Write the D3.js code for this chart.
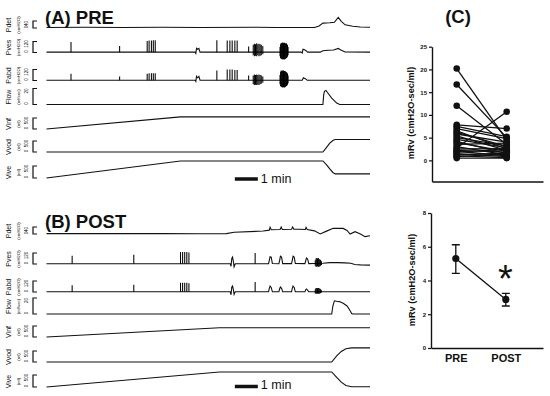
<!DOCTYPE html>
<html><head><meta charset="utf-8">
<script src="https://cdn.jsdelivr.net/npm/d3@7"></script>
<style>html,body{margin:0;padding:0;background:#fff;} svg{display:block;font-family:"Liberation Sans",Arial,sans-serif;}</style>
</head><body><svg id="c" width="550" height="396"></svg>
<script>
// ---------- DATA ----------
const traceNames = ["Pdet","Pves","Pabd","Flow","Vinf","Vvod","Vive"];
const traceUnits = ["(cmH2O)","(cmH2O)","(cmH2O)","(ml/sec)","(ml)","(ml)","(ml)"];
const traceMax   = [40,120,120,20,500,500,500];
const timeDomain = [0,845];           // seconds
const scaleBarSec = 60;               // "1 min"
const scaleBarStart = 492;

// PRE traces: [time s, value]
const pdetPre = [[0,3],[100,4],[200,3],[300,4],[400,3],[550,4],[600,3],[700,3],[712,12],[722,28],[740,30],[752,33],[762,60],[770,38],[780,18],[800,10],[820,6],[845,4]];
const pvesPre = [[0,4],[388,4],[390,-10],[392,45],[395,35],[398,45],[401,4],[665,4],[668,-5],[670,35],[674,30],[678,20],[682,4],[715,4],[722,20],[735,25],[750,28],[762,44],[770,25],[780,5],[845,4]];
const pvesPreSpikes = [[64,4,115],[191,4,70],[263,4,125],[268,4,130],[274,4,130],[279,4,135],[284,4,135],[445,4,135],[472,4,130],[479,4,130],[485,4,130],[492,4,130],[498,4,130],[528,4,65],[540,-30,85],[543,-40,95],[546,-35,90],[549,-40,100],[552,-30,90],[555,-40,95],[558,-35,90],[561,-30,85],[565,-20,70],[610,-40,60],[611.5,-60,90],[613,-70,105],[614.5,-65,100],[616,-75,110],[617.5,-70,105],[619,-75,100],[620.5,-70,110],[622,-75,105],[623.5,-70,100],[625,-65,95],[626.5,-60,100],[628,-55,90],[629.5,-45,80],[631,-30,60]];
const pabdPre = [[0,3],[388,3],[390,-10],[392,45],[395,30],[398,45],[401,3],[668,3],[671,30],[676,20],[681,3],[845,3]];
const pabdPreSpikes = [[64,3,75],[191,3,45],[263,3,75],[268,3,80],[274,3,80],[279,3,80],[284,3,80],[445,3,110],[472,3,120],[479,3,120],[485,3,120],[492,3,115],[498,3,115],[528,3,55],[540,-40,55],[543,-50,65],[546,-45,60],[549,-50,65],[552,-45,60],[555,-50,65],[558,-40,60],[561,-35,55],[565,-25,45],[610,-40,60],[611.5,-60,95],[613,-70,110],[614.5,-65,100],[616,-75,110],[617.5,-70,105],[619,-75,110],[620.5,-70,100],[622,-75,105],[623.5,-70,100],[625,-65,95],[626.5,-60,90],[628,-55,85],[629.5,-45,75],[631,-30,55]];
const flowPre = [[0,0],[722,0],[724,12],[726,16.5],[730,17.5],[734,15],[745,8],[758,1.8],[766,0],[845,0]];
const vinfPre = [[0,0],[350,550],[845,550]];
const vvodPre = [[0,0],[722,0],[731,200],[740,400],[748,520],[754,565],[845,565]];
const vivePre = [[0,0],[350,710],[722,710],[731,560],[740,380],[748,230],[754,170],[845,170]];

// POST traces
const pdetPost = [[0,2],[300,2],[400,1],[470,2],[490,10],[566,17],[582,22],[584,38],[587,24],[610,26],[613,40],[616,26],[640,27],[643,40],[646,27],[660,27],[676,26],[678,38],[681,26],[700,18],[715,0],[730,15],[749,33],[775,32],[785,20],[793,0],[806,13],[820,0],[832,-15],[845,-10]];
const pvesPost = [[0,2],[480,2],[482,-25],[484,60],[486,75],[488,30],[490,-30],[493,2],[580,3],[582,40],[584,80],[587,75],[590,5],[607,3],[609,40],[611,85],[614,75],[617,4],[640,4],[642,40],[644,85],[647,75],[650,5],[675,4],[677,35],[679,65],[682,55],[685,4],[700,5],[722,8],[740,15],[760,15],[780,12],[795,8],[805,-5],[820,-10],[845,-12]];
const pvesPostSpikes = [[67,2,90],[228,2,100],[350,2,130],[355.5,2,130],[361,2,130],[366.5,2,130],[372,2,125],[545,2,120],[702,-20,40],[704,-30,60],[706,-30,65],[708,-25,60],[710,-30,65],[712,-30,55],[714,-25,50],[716,-20,45],[718,-10,30]];
const pabdPost = [[0,2],[480,2],[482,-30],[484,55],[486,65],[488,30],[490,-25],[493,2],[580,2],[582,40],[584,65],[587,50],[590,2],[607,2],[609,35],[611,55],[614,40],[617,2],[640,2],[642,40],[644,65],[647,50],[650,2],[675,2],[677,25],[679,33],[682,20],[685,2],[845,2]];
const pabdPostSpikes = [[67,2,75],[228,2,80],[350,2,100],[355.5,2,100],[361,2,100],[366.5,2,100],[372,2,95],[545,2,110],[702,-15,30],[704,-20,45],[706,-20,45],[708,-15,40],[710,-20,45],[712,-20,40],[714,-15,35],[716,-10,30],[718,-5,20]];
const flowPost = [[0,0],[745,0],[748,10],[752,16.5],[758,16],[765,15.5],[775,13.5],[785,10],[792,5],[797,0.5],[800,0],[845,0]];
const vinfPost = [[0,0],[452,420],[845,420]];
const vvodPost = [[0,0],[745,0],[758,280],[770,480],[782,600],[797,640],[845,640]];
const vivePost = [[0,0],[452,625],[745,625],[758,400],[770,200],[782,60],[797,10],[845,10]];

// Panel C: individual mRv values
const groups = ["PRE","POST"];
const mrvPre  = [20.2,16.7,12.0,7.8,7.5,7.0,6.5,6.2,5.8,5.4,5.0,4.6,4.2,3.9,3.5,3.0,2.7,2.5,2.2,2.0,1.8,1.5,1.2,1.0,0.8,0.5];
const mrvPost = [4.5,5.0,3.5,7.0,5.2,4.8,2.5,3.0,4.0,2.2,3.2,2.8,1.5,2.0,3.8,1.2,10.7,2.6,1.8,1.0,2.4,0.8,1.6,0.6,1.4,0.5];
const cTicks = [0,5,10,15,20,25];
// Panel D: mean +/- SEM
const meanVals = [5.3,2.88];
const errLow   = [4.42,2.49];
const errHigh  = [6.12,3.24];
const dTicks = [0,2,4,6,8];

// ---------- DRAW ----------
const svg = d3.select("#c");
const ink = "#111";
const x = d3.scaleLinear().domain(timeDomain).range([46.5,370]);
const bh = [7,11,11,16,11,11,12];

const panels = [
  {title:"(A) PRE", ty:23.5, bases:[28,52.5,80.5,104.5,129,152,178],
   knots:[pdetPre,pvesPre,pabdPre,flowPre,vinfPre,vvodPre,vivePre],
   spikes:[[],pvesPreSpikes,pabdPreSpikes,[],[],[],[]], barY:179, barTY:183},
  {title:"(B) POST", ty:227.5, bases:[234,264,292,314,337,362,387],
   knots:[pdetPost,pvesPost,pabdPost,flowPost,vinfPost,vvodPost,vivePost],
   spikes:[[],pvesPostSpikes,pabdPostSpikes,[],[],[],[]], barY:386.5, barTY:389}
];

panels.forEach(p => {
  const g = svg.append("g");
  g.append("text").attr("x",45).attr("y",p.ty).attr("font-size",18.5).attr("font-weight","bold")
    .attr("fill",ink).text(p.title);
  traceNames.forEach((nm,i) => {
    const base = p.bases[i];
    const y = d3.scaleLinear().domain([0,traceMax[i]]).range([base, base-bh[i]]);
    const top = y(traceMax[i]);
    const cy = (base+top)/2 + 0.5;
    g.append("text").attr("transform",`translate(8.5,${cy}) rotate(-90)`).attr("text-anchor","middle")
      .attr("dominant-baseline","central").attr("font-size",7).attr("fill",ink).text(nm);
    g.append("text").attr("transform",`translate(18,${cy}) rotate(-90)`).attr("text-anchor","middle")
      .attr("dominant-baseline","central").attr("font-size",4.3).attr("fill",ink).text(traceUnits[i]);
    g.append("text").attr("transform",`translate(26,${base-1}) rotate(-90)`).attr("text-anchor","middle")
      .attr("dominant-baseline","central").attr("font-size",4.6).attr("fill",ink).text("0");
    g.append("text").attr("transform",`translate(26,${top+2.5}) rotate(-90)`).attr("text-anchor","middle")
      .attr("dominant-baseline","central").attr("font-size",4.6).attr("fill",ink).text(String(traceMax[i]));
    g.append("path").attr("d",`M37,${top}H33V${base}H37`).attr("fill","none").attr("stroke",ink).attr("stroke-width",1.2);
    const line = d3.line().x(d=>x(d[0])).y(d=>y(d[1]));
    g.append("path").attr("d",line(p.knots[i])).attr("fill","none").attr("stroke",ink).attr("stroke-width",1.1);
    g.selectAll(null).data(p.spikes[i]).join("line")
      .attr("x1",d=>x(d[0])).attr("x2",d=>x(d[0])).attr("y1",d=>y(d[1])).attr("y2",d=>y(d[2]))
      .attr("stroke","#000").attr("stroke-width",1.05);
  });
  g.append("line").attr("x1",x(scaleBarStart)).attr("x2",x(scaleBarStart+scaleBarSec))
    .attr("y1",p.barY).attr("y2",p.barY).attr("stroke",ink).attr("stroke-width",3.5);
  g.append("text").attr("x",x(scaleBarStart+scaleBarSec)+3).attr("y",p.barTY).attr("font-size",12.5)
    .attr("fill",ink).text("1 min");
});

// Panel C
const yC = d3.scaleLinear().domain([-4.65,25]).range([181.5,46.7]);
const xC = d3.scalePoint().domain(groups).range([432,543]).padding(0.61).align(0.405);
svg.append("text").attr("x",458).attr("y",23).attr("text-anchor","middle").attr("font-size",18.5)
  .attr("font-weight","bold").attr("fill",ink).text("(C)");
const gC = svg.append("g");
const axC = gC.append("g").attr("transform","translate(432,0)")
  .call(d3.axisLeft(yC).tickValues(cTicks).tickSize(3).tickPadding(2).tickSizeOuter(0));
const axCx = gC.append("g").attr("transform","translate(0,181.5)")
  .call(d3.axisBottom(xC).tickSize(0).tickFormat("").tickSizeOuter(0));
gC.selectAll(null).data(mrvPre).join("line")
  .attr("x1",xC("PRE")).attr("x2",xC("POST")).attr("y1",d=>yC(d)).attr("y2",(d,i)=>yC(mrvPost[i]))
  .attr("stroke",ink).attr("stroke-width",1.3);
gC.selectAll(null).data(mrvPre).join("circle").attr("cx",xC("PRE")).attr("cy",d=>yC(d)).attr("r",3.3).attr("fill",ink);
gC.selectAll(null).data(mrvPost).join("circle").attr("cx",xC("POST")).attr("cy",d=>yC(d)).attr("r",3.3).attr("fill",ink);
svg.append("text").attr("transform",`translate(411,113) rotate(-90)`).attr("text-anchor","middle")
  .attr("dominant-baseline","central").attr("font-size",9.2).attr("font-weight","bold").attr("fill",ink)
  .text("mRv (cmH2O-sec/ml)");

// Panel D
const yD = d3.scaleLinear().domain([0,8]).range([348,213]);
const xD = d3.scalePoint().domain(groups).range([431,543]).padding(0.62).align(0.4);
const gD = svg.append("g");
const axD = gD.append("g").attr("transform","translate(431,0)")
  .call(d3.axisLeft(yD).tickValues(dTicks).tickSize(3).tickPadding(2).tickSizeOuter(0));
const axDx = gD.append("g").attr("transform","translate(0,348)")
  .call(d3.axisBottom(xD).tickSize(0).tickPadding(6).tickSizeOuter(0));
axDx.selectAll("text").attr("font-size",11).attr("font-weight","bold").attr("fill",ink).attr("font-family","Liberation Sans, Arial, sans-serif");
[axC,axD,axCx,axDx].forEach(a=>{a.select(".domain").attr("stroke",ink).attr("stroke-width",1.4);a.selectAll(".tick line").attr("stroke",ink).attr("stroke-width",1.2);});
[axC,axD].forEach(a=>a.selectAll("text").attr("font-size",6).attr("font-weight","bold").attr("fill",ink).attr("font-family","Liberation Sans, Arial, sans-serif"));
gD.append("path").attr("d",d3.line().x((d,i)=>xD(groups[i])).y(d=>yD(d))(meanVals))
  .attr("fill","none").attr("stroke",ink).attr("stroke-width",1.3);
groups.forEach((gname,i)=>{
  const cx = xD(gname);
  gD.append("path").attr("d",`M${cx-4},${yD(errHigh[i])}H${cx+4}M${cx},${yD(errHigh[i])}V${yD(errLow[i])}M${cx-4},${yD(errLow[i])}H${cx+4}`)
    .attr("fill","none").attr("stroke",ink).attr("stroke-width",1.3);
  gD.append("circle").attr("cx",cx).attr("cy",yD(meanVals[i])).attr("r",3.6).attr("fill",ink);
});
gD.append("text").attr("x",xD("POST")-0.5).attr("y",292).attr("text-anchor","middle").attr("font-size",38)
  .attr("fill",ink).text("*");
svg.append("text").attr("transform",`translate(411.5,280) rotate(-90)`).attr("text-anchor","middle")
  .attr("dominant-baseline","central").attr("font-size",9.2).attr("font-weight","bold").attr("fill",ink)
  .text("mRv (cmH2O-sec/ml)");
</script></body></html>
